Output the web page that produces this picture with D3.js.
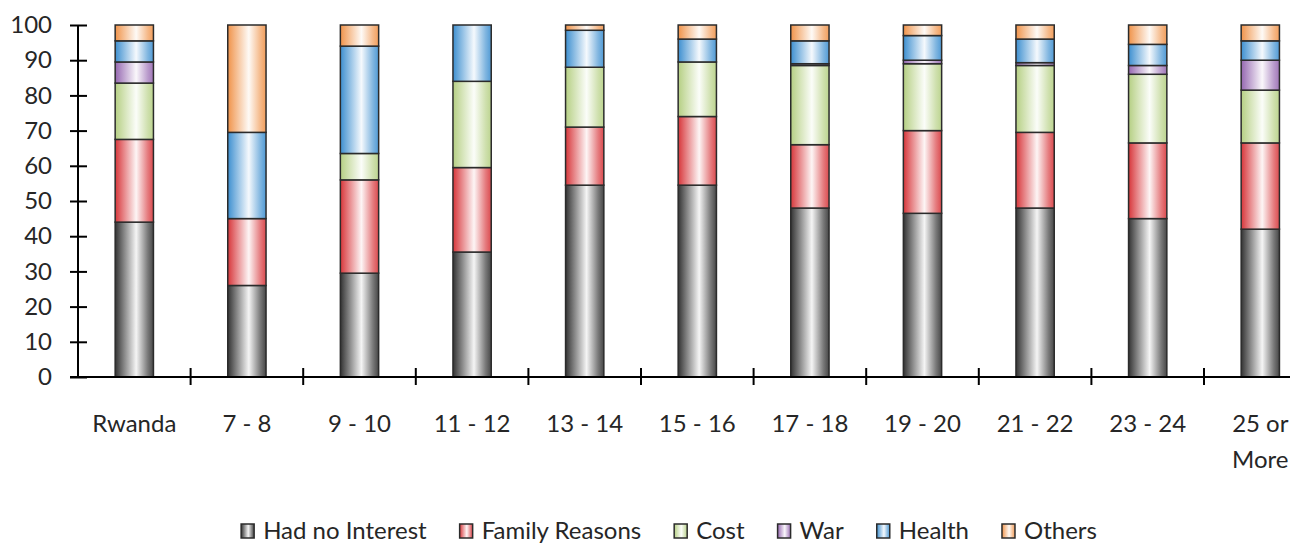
<!DOCTYPE html>
<html>
<head>
<meta charset="utf-8">
<script src="https://cdn.jsdelivr.net/npm/d3@7/dist/d3.min.js"></script>
<style>
  html, body { margin: 0; padding: 0; background: #fff; overflow: hidden; }
  svg { display: block; font-family: Lato, "Open Sans", sans-serif; }
</style>
</head>
<body>
<svg id="chart" width="1290" height="545"></svg>
<script>
// Age groups (plus national total) along the x axis
const categories = ["Rwanda", "7 - 8", "9 - 10", "11 - 12", "13 - 14", "15 - 16",
                    "17 - 18", "19 - 20", "21 - 22", "23 - 24", "25 or More"];

// Reasons for leaving school, share of respondents (%)
const hadNoInterest = [44.0, 26.0, 29.5, 35.5, 54.5, 54.5, 48.0, 46.5, 48.0, 45.0, 42.0];
const familyReasons = [23.5, 19.0, 26.5, 24.0, 16.5, 19.5, 18.0, 23.5, 21.5, 21.5, 24.5];
const cost          = [16.0,  0.0,  7.5, 24.5, 17.0, 15.5, 22.5, 19.0, 19.0, 19.5, 15.0];
const war           = [ 6.0,  0.0,  0.0,  0.0,  0.0,  0.0,  0.5,  1.0,  0.8,  2.5,  8.5];
const health        = [ 6.0, 24.5, 30.5, 16.0, 10.5,  6.5,  6.5,  7.0,  6.7,  6.0,  5.5];
const others        = [ 4.5, 30.5,  6.0,  0.0,  1.5,  4.0,  4.5,  3.0,  4.0,  5.5,  4.5];

const seriesNames = ["Had no Interest", "Family Reasons", "Cost", "War", "Health", "Others"];
const seriesValues = [hadNoInterest, familyReasons, cost, war, health, others];
const seriesColors = ["#333333", "#d7363a", "#b5cf83", "#9567b0", "#3d8fd0", "#f0934a"];

const yTicks = [0, 10, 20, 30, 40, 50, 60, 70, 80, 90, 100];

const svg = d3.select("#chart");
const defs = svg.append("defs");

// Cylinder-like horizontal shading for each series
seriesColors.forEach((c, i) => {
  const g = defs.append("linearGradient")
    .attr("id", "grad" + i)
    .attr("x1", "0%").attr("x2", "100%").attr("y1", "0%").attr("y2", "0%");
  const light = d3.interpolateRgb(c, "#ffffff");
  g.append("stop").attr("offset", "0%").attr("stop-color", c);
  g.append("stop").attr("offset", "20%").attr("stop-color", light(0.35));
  g.append("stop").attr("offset", "55%").attr("stop-color", light(0.95));
  g.append("stop").attr("offset", "85%").attr("stop-color", light(0.35));
  g.append("stop").attr("offset", "100%").attr("stop-color", light(0.1));
});

const plotLeft = 78, plotTop = 25, plotBottom = 377;
const step = 112.6;

const x = d3.scaleBand()
  .domain(categories)
  .range([plotLeft, plotLeft + step * categories.length])
  .padding(0);

const y = d3.scaleLinear().domain([0, 100]).range([plotBottom, plotTop]);

const barW = x.bandwidth() * 0.34;

// Stack the series
const rows = categories.map((c, i) => {
  const r = { cat: c };
  seriesNames.forEach((n, j) => { r[n] = seriesValues[j][i]; });
  return r;
});
const stacked = d3.stack().keys(seriesNames)(rows);

const barsG = svg.append("g");
stacked.forEach((layer, j) => {
  barsG.append("g")
    .selectAll("rect")
    .data(layer.filter(d => d[1] - d[0] > 0))
    .join("rect")
    .attr("x", d => x(d.data.cat) + (x.bandwidth() - barW) / 2)
    .attr("width", barW)
    .attr("y", d => y(d[1]))
    .attr("height", d => y(d[0]) - y(d[1]))
    .attr("fill", "url(#grad" + j + ")")
    .attr("stroke", "#2b2b2b")
    .attr("stroke-width", 1.5);
});

// Y axis with ticks crossing the line
const yAxis = d3.axisLeft(y).tickValues(yTicks).tickSize(0).tickPadding(26);
const yG = svg.append("g").attr("transform", `translate(${plotLeft},0)`).call(yAxis);
yG.select(".domain").remove();
yG.append("line").attr("x1", 0).attr("x2", 0).attr("y1", y(100)).attr("y2", y(0))
  .attr("stroke", "#000").attr("stroke-width", 2);
yG.selectAll(".tick").append("line")
  .attr("x1", -8).attr("x2", 9).attr("stroke", "#000").attr("stroke-width", 2);
yG.selectAll(".tick text")
  .attr("font-size", 24).attr("fill", "#262626").attr("font-family", "Lato, sans-serif");

// X axis: baseline and boundary ticks between categories
const xG = svg.append("g");
xG.append("line")
  .attr("x1", plotLeft - 8).attr("x2", plotLeft + step * categories.length)
  .attr("y1", plotBottom).attr("y2", plotBottom)
  .attr("stroke", "#000").attr("stroke-width", 2);
xG.selectAll("line.xt")
  .data(categories.slice(1))
  .join("line")
  .attr("class", "xt")
  .attr("x1", d => x(d)).attr("x2", d => x(d))
  .attr("y1", plotBottom - 9).attr("y2", plotBottom + 8)
  .attr("stroke", "#000").attr("stroke-width", 2);

// Category labels (wrapped onto two lines where needed)
const labelG = xG.selectAll("text.xl")
  .data(categories)
  .join("text")
  .attr("class", "xl")
  .attr("text-anchor", "middle")
  .attr("font-size", 24)
  .attr("fill", "#262626");
labelG.each(function (d) {
  const t = d3.select(this);
  const cx = x(d) + x.bandwidth() / 2;
  const parts = d === "25 or More" ? ["25 or", "More"] : [d];
  parts.forEach((p, k) => {
    t.append("tspan").attr("x", cx).attr("y", 432 + k * 36).text(p);
  });
});

// Legend
const legend = svg.append("g");
let lx = 0;
seriesNames.forEach((n, i) => {
  const g = legend.append("g");
  g.append("rect")
    .attr("x", 0).attr("y", 524).attr("width", 13).attr("height", 14)
    .attr("fill", "url(#grad" + i + ")")
    .attr("stroke", "#2b2b2b").attr("stroke-width", 1.5);
  const t = g.append("text")
    .attr("x", 22).attr("y", 539)
    .attr("font-size", 24).attr("fill", "#262626")
    .text(n);
  const w = 22 + t.node().getComputedTextLength();
  g.attr("transform", `translate(${lx},0)`);
  lx += w + 33;
});
const totalW = lx - 33;
legend.attr("transform", `translate(${669 - totalW / 2},0)`);
</script>
</body>
</html>
